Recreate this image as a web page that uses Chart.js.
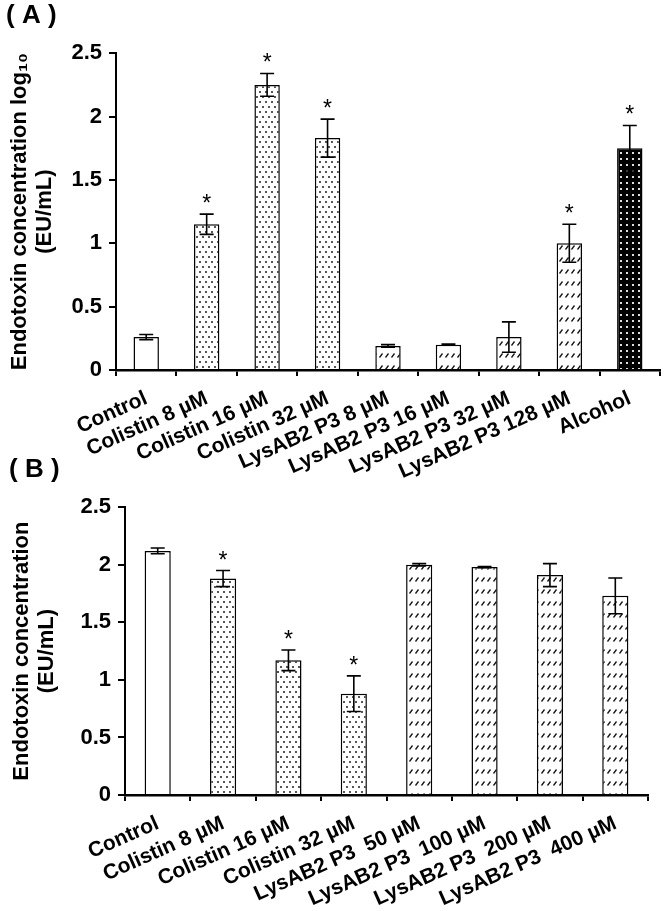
<!DOCTYPE html>
<html>
<head>
<meta charset="utf-8">
<script src="https://cdn.jsdelivr.net/npm/chart.js@4.4.1/dist/chart.umd.min.js"></script>
<style>
  body { margin: 0; background: #fff; }
  #wrap { position: relative; width: 666px; height: 911px; }
  canvas { position: absolute; left: 0; }
  #chartA { top: 0; }
  #chartB { top: 440px; }
</style>
</head>
<body>
<div id="wrap">
  <canvas id="chartA" width="666" height="500"></canvas>
  <canvas id="chartB" width="666" height="471"></canvas>
</div>
<script>
// panel A data
var labelsA = ['Control', 'Colistin 8 µM', 'Colistin 16 µM', 'Colistin 32 µM', 'LysAB2 P3 8 µM',
               'LysAB2 P3 16 µM', 'LysAB2 P3 32 µM', 'LysAB2 P3 128 µM', 'Alcohol'];
var valuesA = [0.26, 1.15, 2.25, 1.83, 0.19, 0.20, 0.26, 1.00, 1.75];
var errorsA = [0.02, 0.08, 0.09, 0.15, 0.01, 0.005, 0.12, 0.15, 0.18];
var starsA  = [false, true, true, true, false, false, false, true, true];

// panel B data
var labelsB = ['Control', 'Colistin 8 µM', 'Colistin 16 µM', 'Colistin 32 µM', 'LysAB2 P3  50 µM',
               'LysAB2 P3  100 µM', 'LysAB2 P3  200 µM', 'LysAB2 P3  400 µM'];
var valuesB = [2.12, 1.88, 1.17, 0.88, 2.00, 1.98, 1.91, 1.73];
var errorsB = [0.025, 0.07, 0.09, 0.155, 0.01, 0.005, 0.10, 0.155];
var starsB  = [false, true, true, true, false, false, false, false];

var yTicks = [0, 0.5, 1, 1.5, 2, 2.5];

Chart.defaults.font.family = "'Liberation Sans', Arial, sans-serif";
Chart.defaults.color = '#000';

function makePattern(kind) {
  var c = document.createElement('canvas');
  var g = c.getContext('2d');
  if (kind == 'dots') {
    c.width = 6; c.height = 10;
    g.fillStyle = '#fff'; g.fillRect(0, 0, 6, 10);
    g.fillStyle = '#555';
    g.fillRect(1, 1, 2, 2);
    g.fillRect(4, 6, 2, 2);
  } else if (kind == 'hatch') {
    c.width = 6; c.height = 12;
    g.fillStyle = '#fff'; g.fillRect(0, 0, 6, 12);
    g.strokeStyle = '#111'; g.lineWidth = 1.3;
    g.beginPath(); g.moveTo(1.5, 9.5); g.lineTo(4.5, 5.5); g.stroke();
  } else if (kind == 'dark') {
    c.width = 6; c.height = 6;
    g.fillStyle = '#000'; g.fillRect(0, 0, 6, 6);
    g.fillStyle = '#ddd'; g.fillRect(2, 2, 2, 2);
  } else {
    return '#fff';
  }
  return g.createPattern(c, 'repeat');
}

function fillFor(label) {
  if (label.indexOf('Colistin') == 0) return makePattern('dots');
  if (label.indexOf('LysAB2') == 0) return makePattern('hatch');
  if (label == 'Alcohol') return makePattern('dark');
  return '#fff';
}

// draws the error bars and the asterisks above them
function errorPlugin(errors, stars) {
  return {
    id: 'errorBars',
    afterDatasetsDraw: function(chart) {
      var ctx = chart.ctx;
      var y = chart.scales.y;
      var vals = chart.data.datasets[0].data;
      var cap = 7;
      ctx.save();
      ctx.strokeStyle = '#000';
      ctx.lineWidth = 1.6;
      ctx.fillStyle = '#000';
      ctx.font = "23px 'Liberation Sans', Arial, sans-serif";
      ctx.textAlign = 'center';
      ctx.textBaseline = 'alphabetic';
      chart.getDatasetMeta(0).data.forEach(function(bar, i) {
        var top = y.getPixelForValue(vals[i] + errors[i]);
        var bot = y.getPixelForValue(vals[i] - errors[i]);
        ctx.beginPath();
        ctx.moveTo(bar.x, top); ctx.lineTo(bar.x, bot);
        ctx.moveTo(bar.x - cap, top); ctx.lineTo(bar.x + cap, top);
        ctx.moveTo(bar.x - cap, bot); ctx.lineTo(bar.x + cap, bot);
        ctx.stroke();
        if (stars[i]) ctx.fillText('*', bar.x, top - 3);
      });
      ctx.restore();
    }
  };
}

function makeChart(id, cfg) {
  return new Chart(document.getElementById(id), {
    type: 'bar',
    data: {
      labels: cfg.labels,
      datasets: [{
        data: cfg.values,
        backgroundColor: cfg.labels.map(fillFor),
        borderColor: '#000',
        borderWidth: 1.5,
        categoryPercentage: 1,
        barPercentage: cfg.barPct
      }]
    },
    options: {
      responsive: false,
      animation: false,
      layout: { padding: { left: cfg.padLeft, right: cfg.padRight, top: 0, bottom: 0 } },
      plugins: {
        legend: { display: false },
        tooltip: { enabled: false },
        title: {
          display: true,
          text: cfg.panel,
          align: 'start',
          font: { size: 26, weight: 'bold', lineHeight: 1.2 },
          padding: { top: cfg.titleTop, bottom: cfg.titleBottom }
        }
      },
      scales: {
        x: {
          grid: { drawOnChartArea: false, color: '#000', lineWidth: 2, tickLength: 6, offset: true },
          border: { color: '#000', width: 2.5 },
          ticks: { autoSkip: false, minRotation: 24, maxRotation: 24, padding: 10,
                   font: { size: 21, weight: 'bold' } },
          afterFit: function(s) { s.height = cfg.xHeight; s.paddingLeft = 0; s.paddingRight = 0; }
        },
        y: {
          min: 0, max: 2.5,
          grid: { drawOnChartArea: false, color: '#000', lineWidth: 2, tickLength: 7 },
          border: { color: '#000', width: 2 },
          ticks: {
            stepSize: 0.5, padding: 7,
            font: { size: 22, weight: 'bold' },
            callback: function(v) { return yTicks.indexOf(v) >= 0 ? String(v) : ''; }
          },
          title: {
            display: true,
            text: cfg.yTitle,
            font: { size: 22, weight: 'bold', lineHeight: 1.15 },
            padding: { top: cfg.yTitlePad, bottom: 0 }
          },
          afterFit: function(s) { s.width = cfg.yWidth; }
        }
      }
    },
    plugins: [errorPlugin(cfg.errors, cfg.stars)]
  });
}

makeChart('chartA', {
  panel: '( A )', labels: labelsA, values: valuesA, errors: errorsA, stars: starsA,
  yTitle: ['Endotoxin concentration log\u2081\u2080', '(EU/mL)'],
  barPct: 0.42, padLeft: 6, padRight: 6, yWidth: 110, xHeight: 130,
  titleTop: 0, titleBottom: 22, yTitlePad: 1
});

makeChart('chartB', {
  panel: '( B )', labels: labelsB, values: valuesB, errors: errorsB, stars: starsB,
  yTitle: ['Endotoxin concentration', '(EU/mL)'],
  barPct: 0.40, padLeft: 9, padRight: 18, yWidth: 116, xHeight: 116,
  titleTop: 14, titleBottom: 22, yTitlePad: 0
});
</script>
</body>
</html>
